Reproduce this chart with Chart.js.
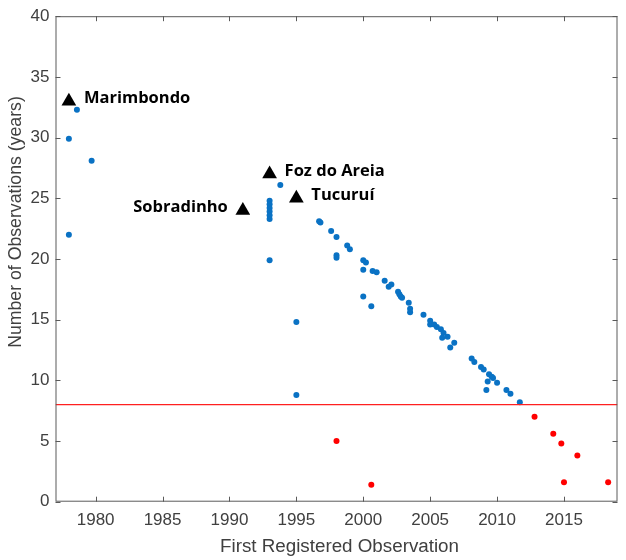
<!DOCTYPE html>
<html>
<head>
<meta charset="utf-8">
<script src="https://cdn.jsdelivr.net/npm/chart.js@4"></script>
<style>
  html, body { margin: 0; padding: 0; background: #fff; }
  #wrap { width: 626px; height: 560px; }
</style>
</head>
<body>
<div id="wrap"><canvas id="chart" width="626" height="560"></canvas></div>
<script>
// Stations with enough record length (blue)
const longYears = [1978.0, 1978.0, 1978.6, 1979.7,
  1993.0, 1993.0, 1993.0, 1993.0, 1993.0, 1993.0, 1993.0, 1993.8,
  1995.0, 1995.0, 1996.7, 1996.8, 1997.6, 1998.0, 1998.0, 1998.0,
  1998.8, 1999.0, 2000.0, 2000.2, 2000.0, 2000.0, 2000.6, 2000.7, 2001.0,
  2001.6, 2001.9, 2002.1, 2002.6, 2002.7, 2002.8, 2002.9,
  2003.4, 2003.5, 2003.5, 2004.5, 2005.0, 2005.0, 2005.3, 2005.5, 2005.8,
  2006.0, 2005.9, 2006.3, 2006.8, 2006.5,
  2008.1, 2008.3, 2008.8, 2009.0, 2009.4, 2009.6, 2009.7, 2009.3, 2009.2,
  2010.0, 2010.7, 2011.0, 2011.7];
const longObs = [29.9, 22.0, 32.3, 28.1,
  24.8, 24.5, 24.2, 23.9, 23.6, 23.3, 19.9, 26.1,
  14.8, 8.8, 23.1, 23.0, 22.3, 21.8, 20.3, 20.1,
  21.1, 20.8, 19.9, 19.7, 19.1, 16.9, 16.1, 19.0, 18.9,
  18.2, 17.7, 17.9, 17.3, 17.1, 16.9, 16.8,
  16.4, 15.9, 15.6, 15.4, 14.9, 14.6, 14.6, 14.4, 14.2,
  13.9, 13.5, 13.6, 13.1, 12.7,
  11.8, 11.5, 11.1, 10.9, 10.5, 10.3, 10.2, 9.9, 9.2,
  9.8, 9.2, 8.9, 8.2];

// Stations below the minimum record length (red)
const shortYears = [1998.0, 2000.6, 2012.8, 2014.2, 2014.8, 2016.0, 2015.0, 2018.3];
const shortObs   = [5.0, 1.4, 7.0, 5.6, 4.8, 3.8, 1.6, 1.6];

// Named reservoirs
const siteNames = ['Marimbondo', 'Sobradinho', 'Foz do Areia', 'Tucuruí'];
const siteYears = [1978, 1991, 1993, 1995];
const siteObs   = [33, 24, 27, 25];

// Minimum number of years required
const minYears = 8;

// Axis ticks
const xTickValues = [1980, 1985, 1990, 1995, 2000, 2005, 2010, 2015];
const yTickValues = [0, 5, 10, 15, 20, 25, 30, 35, 40];
const xRange = [1977, 2019];
const yRange = [0, 40];

// Label placement: text on the right (1) or left (-1) of the marker
const siteSide = [1, -1, 1, 1];

const axisColor = '#404040';
const tickFont = { family: 'Liberation Sans, Arial, sans-serif', size: 17 };

const toPoints = (xs, ys) => xs.map((x, i) => ({ x: x, y: ys[i] }));

// Box, inward tick marks, axis titles and station names
const decorations = {
  id: 'decorations',
  afterDatasetsDraw(chart) {
    const { ctx, chartArea: a, scales: { x, y } } = chart;
    ctx.save();
    ctx.strokeStyle = '#5a5a5a';
    ctx.lineWidth = 1;
    ctx.strokeRect(a.left + 0.5, a.top + 0.5, a.right - a.left - 1, a.bottom - a.top - 1);
    ctx.beginPath();
    const tl = 5;
    xTickValues.forEach(v => {
      const px = Math.round(x.getPixelForValue(v)) + 0.5;
      ctx.moveTo(px, a.bottom); ctx.lineTo(px, a.bottom - tl);
      ctx.moveTo(px, a.top); ctx.lineTo(px, a.top + tl);
    });
    yTickValues.forEach(v => {
      const py = Math.round(y.getPixelForValue(v)) + 0.5;
      ctx.moveTo(a.left, py); ctx.lineTo(a.left + tl, py);
      ctx.moveTo(a.right, py); ctx.lineTo(a.right - tl, py);
    });
    ctx.stroke();

    // axis titles
    ctx.fillStyle = axisColor;
    ctx.font = '18.8px "Liberation Sans", Arial, sans-serif';
    ctx.textAlign = 'center';
    ctx.textBaseline = 'alphabetic';
    ctx.fillText('First Registered Observation', (a.left + a.right) / 2 + 3, 551.5);
    ctx.save();
    ctx.translate(20.5, 222);
    ctx.rotate(-Math.PI / 2);
    ctx.font = '17.7px "Liberation Sans", Arial, sans-serif';
    ctx.fillText('Number of Observations (years)', 0, 0);
    ctx.restore();

    // station names
    ctx.fillStyle = '#000';
    ctx.font = 'bold 16.5px "Open Sans", sans-serif';
    ctx.textBaseline = 'middle';
    siteNames.forEach((name, i) => {
      const px = x.getPixelForValue(siteYears[i]);
      const py = y.getPixelForValue(siteObs[i]);
      const side = siteSide[i];
      ctx.textAlign = side > 0 ? 'left' : 'right';
      ctx.fillText(name, px + side * 15, py - 3);
    });
    ctx.restore();
  }
};

new Chart(document.getElementById('chart'), {
  type: 'scatter',
  data: {
    datasets: [
      {
        label: 'Minimum',
        type: 'line',
        data: [{ x: xRange[0], y: minYears }, { x: xRange[1], y: minYears }],
        borderColor: '#ff2020',
        borderWidth: 1.3,
        pointRadius: 0,
        fill: false
      },
      {
        label: 'Long records',
        data: toPoints(longYears, longObs),
        backgroundColor: '#0a72c4',
        borderWidth: 0,
        pointRadius: 3
      },
      {
        label: 'Short records',
        data: toPoints(shortYears, shortObs),
        backgroundColor: '#ff0000',
        borderWidth: 0,
        pointRadius: 3
      },
      {
        label: 'Reservoirs',
        data: toPoints(siteYears, siteObs),
        pointStyle: 'triangle',
        backgroundColor: '#000',
        borderWidth: 0,
        pointRadius: 8.5
      }
    ]
  },
  options: {
    responsive: false,
    animation: false,
    events: [],
    layout: { padding: { top: 13.5, right: 2, left: 0, bottom: 0 } },
    plugins: { legend: { display: false }, tooltip: { enabled: false } },
    scales: {
      x: {
        type: 'linear',
        min: xRange[0],
        max: xRange[1],
        grid: { display: false, drawTicks: false },
        border: { display: false },
        afterBuildTicks: s => { s.ticks = xTickValues.map(v => ({ value: v })); },
        afterFit: s => { s.height = 58.3; },
        ticks: { color: axisColor, font: tickFont, padding: 8, maxRotation: 0, callback: v => String(v) }
      },
      y: {
        type: 'linear',
        min: yRange[0],
        max: yRange[1],
        grid: { display: false, drawTicks: false },
        border: { display: false },
        afterBuildTicks: s => { s.ticks = yTickValues.map(v => ({ value: v })); },
        afterFit: s => { s.width = 55.5; },
        ticks: { color: axisColor, font: tickFont, padding: 6 }
      }
    }
  },
  plugins: [decorations]
});
</script>
</body>
</html>
